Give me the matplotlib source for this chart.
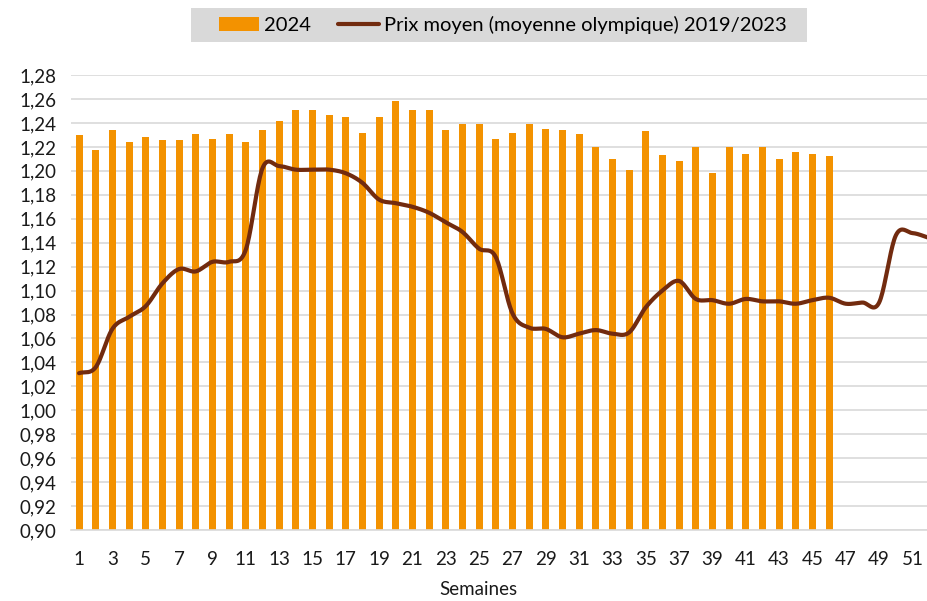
import numpy as np
import matplotlib
matplotlib.use("Agg")
import matplotlib.pyplot as plt
from matplotlib.patches import Rectangle
from matplotlib.ticker import FuncFormatter

plt.rcParams['font.family'] = ['Lato', 'DejaVu Sans']

weeks_2024 = list(range(1, 47))
prix_2024 = [1.230, 1.217, 1.234, 1.224, 1.228, 1.226, 1.226, 1.231, 1.227, 1.231,
             1.224, 1.234, 1.242, 1.251, 1.251, 1.247, 1.245, 1.232, 1.245, 1.258,
             1.251, 1.251, 1.234, 1.239, 1.239, 1.227, 1.232, 1.239, 1.235, 1.234,
             1.231, 1.220, 1.210, 1.201, 1.233, 1.213, 1.208, 1.220, 1.198, 1.220,
             1.214, 1.220, 1.210, 1.216, 1.214, 1.212]

weeks_avg = list(range(1, 53))
prix_moyen = [1.031, 1.036, 1.068, 1.078, 1.087, 1.106, 1.118, 1.116, 1.124, 1.124,
              1.134, 1.202, 1.204, 1.201, 1.201, 1.201, 1.198, 1.190, 1.176, 1.173,
              1.170, 1.165, 1.157, 1.149, 1.135, 1.128, 1.081, 1.069, 1.068, 1.061,
              1.064, 1.067, 1.064, 1.065, 1.086, 1.100, 1.108, 1.093, 1.092, 1.089,
              1.093, 1.091, 1.091, 1.089, 1.092, 1.094, 1.089, 1.090, 1.090, 1.146,
              1.148, 1.144]

serie_bar = "2024"
serie_line = "Prix moyen (moyenne olympique) 2019/2023"


def smooth(x, y, n=20):
    # catmull-rom, a bit like the excel smoothed line
    x = np.asarray(x, float)
    y = np.asarray(y, float)
    px = np.concatenate([[2 * x[0] - x[1]], x, [2 * x[-1] - x[-2]]])
    py = np.concatenate([[2 * y[0] - y[1]], y, [2 * y[-1] - y[-2]]])
    xs, ys = [], []
    t = np.linspace(0, 1, n, endpoint=False)
    for i in range(1, len(px) - 2):
        for p, out in ((px, xs), (py, ys)):
            p0, p1, p2, p3 = p[i - 1], p[i], p[i + 1], p[i + 2]
            out.extend(0.5 * ((2 * p1) + (-p0 + p2) * t
                              + (2 * p0 - 5 * p1 + 4 * p2 - p3) * t ** 2
                              + (-p0 + 3 * p1 - 3 * p2 + p3) * t ** 3))
    xs.append(x[-1])
    ys.append(y[-1])
    return np.array(xs), np.array(ys)


fig = plt.figure(figsize=(9.28, 6.01), dpi=100)
ax = fig.add_axes([0.0762, 0.1181, 0.934, 0.757])

bars = ax.bar(weeks_2024, prix_2024, width=0.42, color='#F39200', label=serie_bar, zorder=2)
sx, sy = smooth(weeks_avg, prix_moyen)
line, = ax.plot(sx, sy, color='#722B0F', lw=3.0, label=serie_line, zorder=3,
                solid_capstyle='round')

ax.set_xlim(0.5, 52.5)
ax.set_ylim(0.90, 1.28)
ax.set_yticks(np.arange(0.90, 1.2801, 0.02))
ax.yaxis.set_major_formatter(FuncFormatter(lambda v, p: f"{v:.2f}".replace('.', ',')))
ax.set_xticks(range(1, 52, 2))
ax.grid(axis='y', color='#d9d9d9', lw=1.2, zorder=0)
ax.set_axisbelow(True)
for s in ['top', 'right', 'left']:
    ax.spines[s].set_visible(False)
ax.spines['bottom'].set_color('#d9d9d9')
ax.spines['bottom'].set_linewidth(1.2)
ax.tick_params(axis='both', length=0, labelsize=13.5, colors='#1a1a1a')
ax.tick_params(axis='x', pad=15)
ax.tick_params(axis='y', pad=10)
ax.set_xlabel("Semaines", fontsize=13.5, color='#1a1a1a')
ax.xaxis.set_label_coords((478 - 70.7) / (0.934 * 928), -0.113)

# grey band behind the legend
fig.patches.append(Rectangle((191 / 928, 1 - 42 / 601), 616 / 928, 34 / 601,
                             transform=fig.transFigure, facecolor='#d9d9d9',
                             edgecolor='none', zorder=0))
leg = fig.legend([bars, line], [serie_bar, serie_line], loc='center',
                 bbox_to_anchor=(0.5415, 0.958), ncol=2, fontsize=14.5,
                 frameon=False, handlelength=2.0, handleheight=0.7,
                 columnspacing=1.35, handletextpad=0.25, borderpad=0.2)

fig.savefig("out.png", dpi=100)
